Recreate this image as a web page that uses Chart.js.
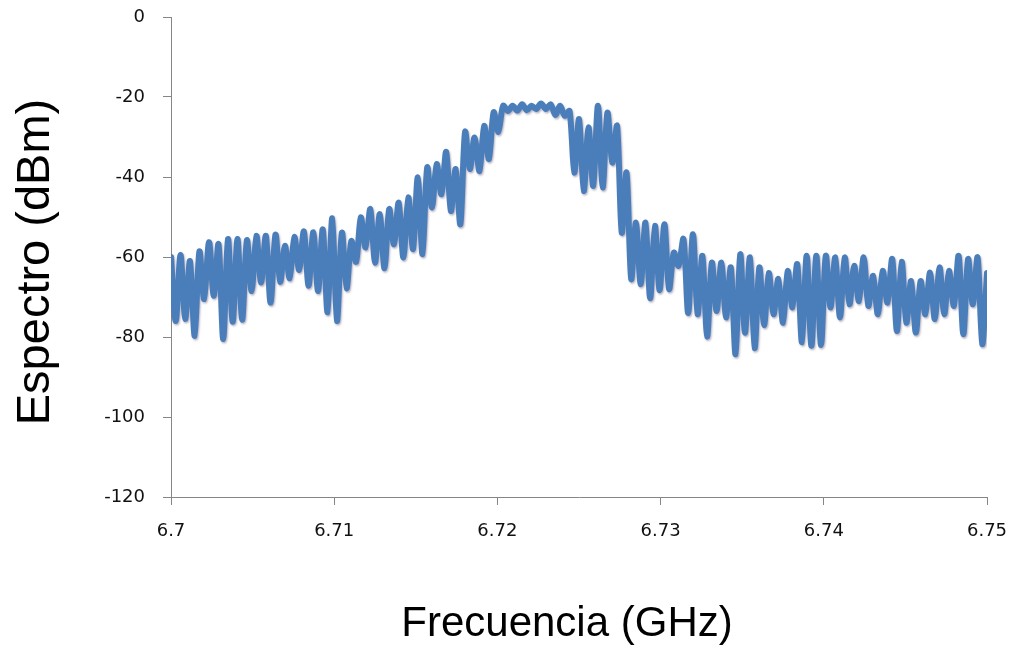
<!DOCTYPE html>
<html>
<head>
<meta charset="utf-8">
<script src="https://cdn.jsdelivr.net/npm/chart.js@4.4.0/dist/chart.umd.min.js"></script>
<style>
  body { margin: 0; background: #fff; }
  canvas { display: block; }
</style>
</head>
<body>
<canvas id="espectro" width="1017" height="648"></canvas>
<script>
// frequency points (GHz)
let frecuencias = [
  6.7, 6.70029, 6.70058, 6.70087, 6.70116, 6.70145, 6.70174, 6.70203, 6.70233, 6.70262,
  6.70291, 6.7032, 6.70349, 6.70378, 6.70407, 6.70436, 6.70465, 6.70494, 6.70523, 6.70552,
  6.70581, 6.7061, 6.7064, 6.70669, 6.70698, 6.70727, 6.70756, 6.70785, 6.70814, 6.70843,
  6.70872, 6.70901, 6.7093, 6.70959, 6.70988, 6.71017, 6.71047, 6.71076, 6.71105, 6.71134,
  6.71163, 6.71192, 6.71221, 6.7125, 6.71279, 6.71308, 6.71337, 6.71366, 6.71395, 6.71424,
  6.71454, 6.71483, 6.71512, 6.71541, 6.7157, 6.71599, 6.71628, 6.71657, 6.71686, 6.71715,
  6.71744, 6.71773, 6.71802, 6.71831, 6.7186, 6.7189, 6.71919, 6.71948, 6.71977, 6.72006,
  6.72035, 6.72064, 6.72093, 6.72122, 6.72151, 6.7218, 6.72209, 6.72238, 6.72267, 6.72297,
  6.72326, 6.72355, 6.72384, 6.72413, 6.72442, 6.72471, 6.725, 6.72529, 6.72558, 6.72587,
  6.72616, 6.72645, 6.72674, 6.72704, 6.72733, 6.72762, 6.72791, 6.7282, 6.72849, 6.72878,
  6.72907, 6.72936, 6.72965, 6.72994, 6.73023, 6.73052, 6.73081, 6.7311, 6.7314, 6.73169,
  6.73198, 6.73227, 6.73256, 6.73285, 6.73314, 6.73343, 6.73372, 6.73401, 6.7343, 6.73459,
  6.73488, 6.73517, 6.73547, 6.73576, 6.73605, 6.73634, 6.73663, 6.73692, 6.73721, 6.7375,
  6.73779, 6.73808, 6.73837, 6.73866, 6.73895, 6.73924, 6.73954, 6.73983, 6.74012, 6.74041,
  6.7407, 6.74099, 6.74128, 6.74157, 6.74186, 6.74215, 6.74244, 6.74273, 6.74302, 6.74331,
  6.74361, 6.7439, 6.74419, 6.74448, 6.74477, 6.74506, 6.74535, 6.74564, 6.74593, 6.74622,
  6.74651, 6.7468, 6.74709, 6.74738, 6.74767, 6.74797, 6.74826, 6.74855, 6.74884, 6.74913,
  6.74942, 6.74971, 6.75
];

// spectrum (dBm)
let espectro = [
  -60, -76, -59.5, -75.5, -61, -79.7, -58.6, -70.5, -56.3, -69.7,
  -56.8, -80.5, -55.5, -76.2, -55.5, -75.7, -55.8, -68.5, -54.7, -66.4,
  -54.7, -71.4, -54.4, -66.2, -57.2, -65.3, -55, -63.2, -53.6, -67.2,
  -53.8, -68.5, -53.1, -73.8, -50.3, -76, -53.9, -67.8, -56, -61.2,
  -50.1, -57.6, -48, -61.4, -49.3, -62.8, -48, -56.8, -46.4, -60.1,
  -45.1, -58, -40.1, -59.3, -37.6, -47.6, -36.8, -44.3, -33.7, -48.5,
  -38, -51.8, -28.7, -38, -30.1, -38.5, -27.2, -35.5, -23.8, -28.7,
  -22.2, -23.5, -22.2, -23.4, -21.8, -23.3, -22.2, -23, -21.6, -23,
  -21.8, -24.5, -22.2, -24.7, -23.5, -38.9, -25.5, -43.5, -27.6, -42.2,
  -22.2, -42.6, -23.9, -36.4, -27.2, -53.9, -38.9, -65.5, -51.4, -66.8,
  -51.4, -70.3, -52.2, -68.3, -51.8, -68, -58.9, -62.2, -55.5, -74,
  -54.3, -74.3, -59.7, -79.9, -61.4, -73.5, -61.4, -75.1, -62.6, -84.3,
  -59.3, -78.9, -60.1, -82.8, -62.6, -77, -64, -74.3, -65.5, -76.4,
  -63.5, -72.6, -61.8, -81.3, -59.7, -82.2, -59.7, -82, -59.7, -72.6,
  -60.1, -75.1, -60.1, -71.8, -62.2, -71, -60.1, -72.2, -64.7, -74.3,
  -63.5, -71.4, -60.5, -78.5, -61.2, -76.4, -66, -78.9, -66, -74.3,
  -63.9, -75.5, -62.6, -74.3, -63.5, -72.2, -59.7, -79.3, -60.5, -71.8,
  -60.1, -81.8, -64
];

let xTicks = [6.7, 6.71, 6.72, 6.73, 6.74, 6.75];
let yTicks = [-120, -100, -80, -60, -40, -20, 0];

let tituloX = 'Frecuencia (GHz)';
let tituloY = 'Espectro (dBm)';

let puntos = frecuencias.map((f, i) => ({ x: f, y: espectro[i] }));

// axis titles drawn by hand so they sit where the original has them
let titulos = {
  id: 'titulos',
  afterDraw(chart) {
    let c = chart.ctx;
    c.save();
    c.fillStyle = '#000';
    c.textAlign = 'center';
    c.textBaseline = 'middle';
    c.font = '42px "Liberation Sans", Arial, sans-serif';
    c.fillText(tituloX, 567, 624);
    c.font = '47px "Liberation Sans", Arial, sans-serif';
    c.translate(36, 262);
    c.rotate(-Math.PI / 2);
    c.fillText(tituloY, 0, 0);
    c.restore();
  }
};

// soft shadow under the trace, like the office chart
let sombra = {
  id: 'sombra',
  beforeDatasetDraw(chart) {
    let c = chart.ctx;
    c.save();
    c.shadowColor = 'rgba(60,40,80,0.35)';
    c.shadowBlur = 2;
    c.shadowOffsetX = 1;
    c.shadowOffsetY = 1.5;
  },
  afterDatasetDraw(chart) {
    chart.ctx.restore();
  }
};

let gris = '#868686';
let tickFont = { family: '"DejaVu Sans", Tahoma, sans-serif', size: 18 };

new Chart(document.getElementById('espectro'), {
  type: 'line',
  data: {
    datasets: [{
      data: puntos,
      borderColor: '#4a7ebb',
      borderWidth: 6,
      borderJoinStyle: 'round',
      borderCapStyle: 'round',
      pointRadius: 0,
      tension: 0.3
    }]
  },
  options: {
    responsive: false,
    animation: false,
    layout: { padding: { top: 17, right: 30, left: 0, bottom: 0 } },
    plugins: { legend: { display: false }, tooltip: { enabled: false } },
    scales: {
      x: {
        type: 'linear',
        min: xTicks[0],
        max: xTicks[xTicks.length - 1],
        afterBuildTicks: s => { s.ticks = xTicks.map(v => ({ value: v })); },
        afterFit: s => { s.height = 151; s.paddingLeft = 0; s.paddingRight = 0; },
        grid: { drawOnChartArea: false, color: gris, tickLength: 8 },
        border: { color: gris, width: 1 },
        ticks: {
          color: '#111',
          font: tickFont,
          padding: 16,
          maxRotation: 0,
          callback: v => String(Number(v.toFixed(2)))
        }
      },
      y: {
        min: yTicks[0],
        max: yTicks[yTicks.length - 1],
        afterBuildTicks: s => { s.ticks = yTicks.map(v => ({ value: v })); },
        afterFit: s => { s.width = 171; s.paddingTop = 0; s.paddingBottom = 0; },
        grid: { drawOnChartArea: false, color: gris, tickLength: 8 },
        border: { color: gris, width: 1 },
        ticks: { color: '#111', font: tickFont, padding: 18 }
      }
    }
  },
  plugins: [sombra, titulos]
});
</script>
</body>
</html>
